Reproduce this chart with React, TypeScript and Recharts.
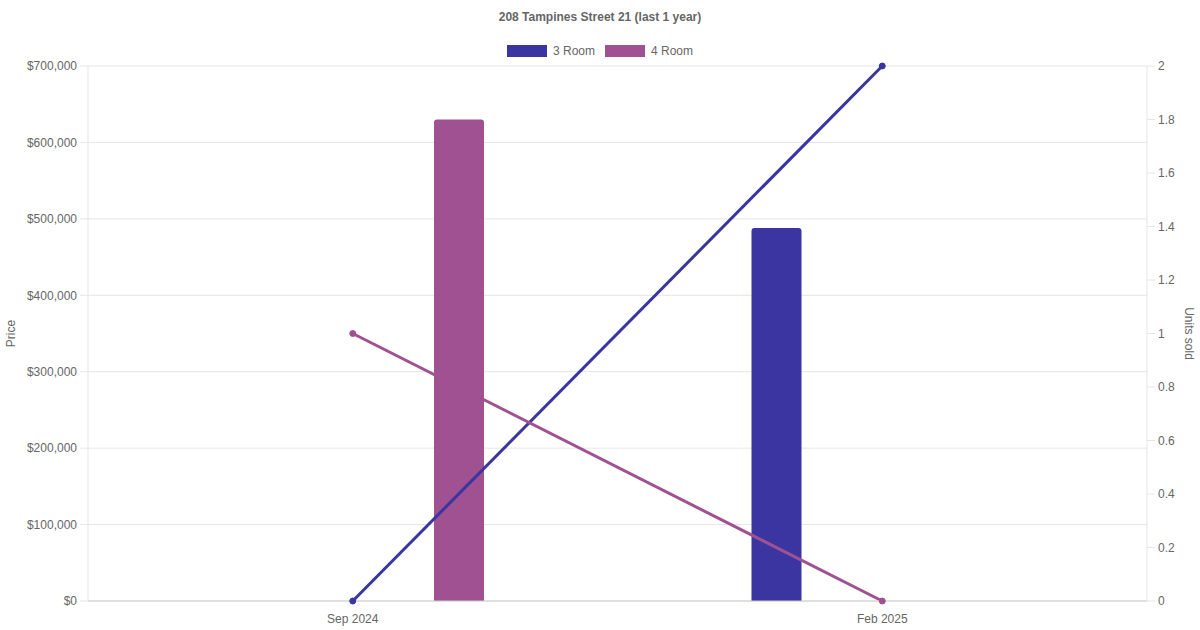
import {
  ComposedChart,
  Bar,
  Line,
  XAxis,
  YAxis,
  CartesianGrid,
} from "recharts";

const MONTHS = ["Sep 2024", "Feb 2025"];
const PRICE_3ROOM = [null, 488000];
const PRICE_4ROOM = [630000, null];
const UNITS_3ROOM = [0, 2];
const UNITS_4ROOM = [1, 0];

const PRICE_TICKS = [0, 100000, 200000, 300000, 400000, 500000, 600000, 700000];
const UNIT_TICKS = [0, 0.2, 0.4, 0.6, 0.8, 1, 1.2, 1.4, 1.6, 1.8, 2];

const ROOM3_COLOR = "#3a35a0";
const ROOM4_COLOR = "#a05191";
const TEXT_COLOR = "#666";
const GRID_COLOR = "#e5e5e5";
const FONT = "'Liberation Sans', Arial, Helvetica, sans-serif";

const SERIES = [
  { name: "3 Room", color: ROOM3_COLOR },
  { name: "4 Room", color: ROOM4_COLOR },
];

const data = MONTHS.map((m, i) => ({
  month: m,
  price3: PRICE_3ROOM[i],
  price4: PRICE_4ROOM[i],
  units3: UNITS_3ROOM[i],
  units4: UNITS_4ROOM[i],
}));

const tickStyle = { fill: TEXT_COLOR, fontSize: 12, fontFamily: FONT };

export default function App() {
  return (
    <div
      style={{
        position: "absolute",
        left: 0,
        top: 0,
        width: 1200,
        height: 630,
        background: "#fff",
        fontFamily: FONT,
      }}
    >
      {/* Title */}
      <div
        style={{
          position: "absolute",
          top: 10,
          width: "100%",
          textAlign: "center",
          fontSize: 12,
          fontWeight: "bold",
          color: TEXT_COLOR,
        }}
      >
        208 Tampines Street 21 (last 1 year)
      </div>
      {/* Legend */}
      <div
        style={{
          position: "absolute",
          top: 44,
          width: "100%",
          display: "flex",
          justifyContent: "center",
          gap: 10,
          fontSize: 12,
          color: TEXT_COLOR,
        }}
      >
        {SERIES.map((s) => (
          <div key={s.name} style={{ display: "flex", alignItems: "center", gap: 6 }}>
            <div style={{ width: 40, height: 12, background: s.color }} />
            <span>{s.name}</span>
          </div>
        ))}
      </div>
      <ComposedChart
        width={1200}
        height={630}
        data={data}
        margin={{ top: 66, right: 0, bottom: 0, left: 0 }}
        barSize={50}
        barGap={162}
      >
        <CartesianGrid
          yAxisId="left"
          vertical={false}
          stroke={GRID_COLOR}
        />
        <XAxis
          dataKey="month"
          height={29}
          tickLine={false}
          tickSize={8}
          tickMargin={5}
          axisLine={{ stroke: "#ccc" }}
          tick={tickStyle}
        />
        <YAxis
          yAxisId="left"
          orientation="left"
          width={88}
          domain={[0, 700000]}
          ticks={PRICE_TICKS}
          interval={0}
          tickSize={8}
          tickMargin={3}
          tickLine={{ stroke: GRID_COLOR }}
          axisLine={{ stroke: GRID_COLOR }}
          tick={tickStyle}
          tickFormatter={(v) => "$" + Number(v).toLocaleString("en-US")}
          label={{
            value: "Price",
            angle: -90,
            position: "insideLeft",
            offset: 11,
            style: { textAnchor: "middle", fill: TEXT_COLOR, fontSize: 12, fontFamily: FONT },
          }}
        />
        <YAxis
          yAxisId="right"
          orientation="right"
          width={53}
          domain={[0, 2]}
          ticks={UNIT_TICKS}
          interval={0}
          tickSize={8}
          tickMargin={3}
          tickLine={{ stroke: GRID_COLOR }}
          axisLine={{ stroke: GRID_COLOR }}
          tick={tickStyle}
          label={{
            value: "Units sold",
            angle: 90,
            position: "insideRight",
            offset: 11,
            style: { textAnchor: "middle", fill: TEXT_COLOR, fontSize: 12, fontFamily: FONT },
          }}
        />
        <Bar
          yAxisId="left"
          dataKey="price3"
          name="3 Room"
          fill={ROOM3_COLOR}
          radius={[3, 3, 0, 0]}
          isAnimationActive={false}
        />
        <Bar
          yAxisId="left"
          dataKey="price4"
          name="4 Room"
          fill={ROOM4_COLOR}
          radius={[3, 3, 0, 0]}
          isAnimationActive={false}
        />
        <Line
          yAxisId="right"
          dataKey="units3"
          name="3 Room"
          stroke={ROOM3_COLOR}
          strokeWidth={3}
          dot={{ r: 3, fill: ROOM3_COLOR, stroke: ROOM3_COLOR, strokeWidth: 1 }}
          isAnimationActive={false}
        />
        <Line
          yAxisId="right"
          dataKey="units4"
          name="4 Room"
          stroke={ROOM4_COLOR}
          strokeWidth={3}
          dot={{ r: 3, fill: ROOM4_COLOR, stroke: ROOM4_COLOR, strokeWidth: 1 }}
          isAnimationActive={false}
        />
      </ComposedChart>
    </div>
  );
}
